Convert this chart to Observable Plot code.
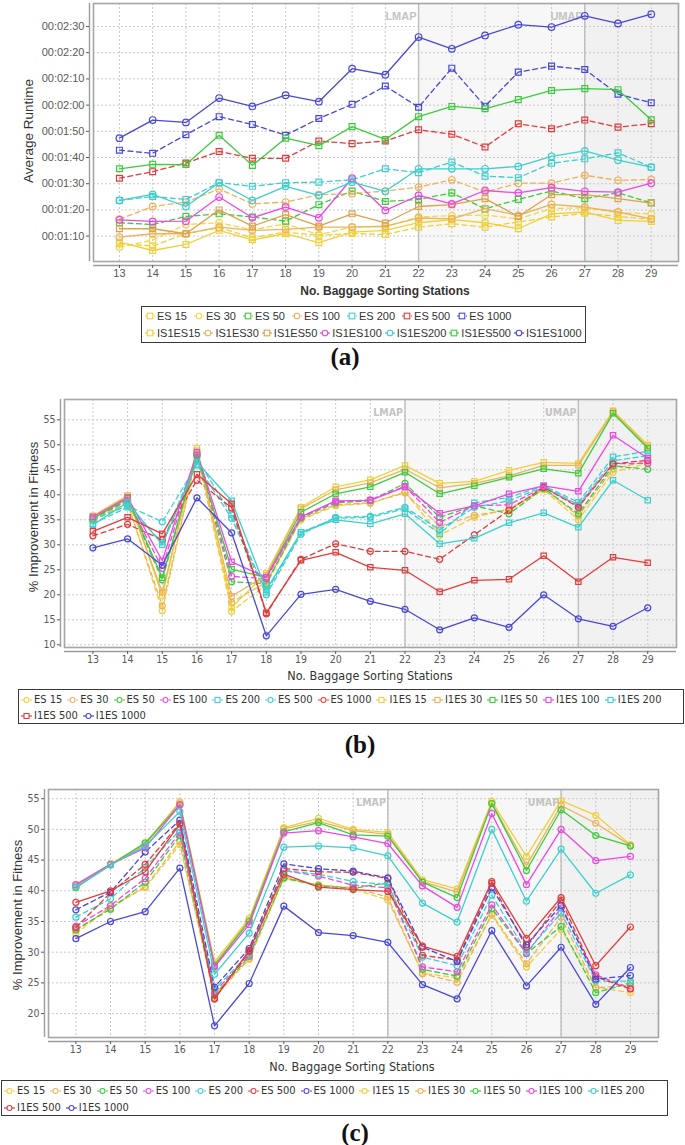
<!DOCTYPE html>
<html><head><meta charset="utf-8">
<script src="https://cdn.jsdelivr.net/npm/d3@7"></script>
<script src="https://cdn.jsdelivr.net/npm/@observablehq/plot@0.6"></script>
<style>
body{margin:0;background:#fff;}
#root{position:relative;width:685px;height:1145px;overflow:hidden;font-family:"Liberation Sans",Arial,sans-serif;}
.panel{position:absolute;left:0;}
.lbl{position:absolute;white-space:nowrap;color:#333;transform:translate(-50%,-50%);}
.legend{position:absolute;border:1.5px solid #3a3a3a;box-sizing:border-box;background:#fff;}
.lrow{position:absolute;display:flex;align-items:center;white-space:nowrap;}
.item{display:flex;align-items:center;color:#333;}
.item svg{display:block;}
.cap{position:absolute;font-family:"Liberation Serif","Times New Roman",serif;font-weight:bold;font-size:25px;transform:translate(-50%,-50%);color:#111;}
</style></head><body><div id="root"></div>
<script>
// ---------- data ----------
const stations = [13,14,15,16,17,18,19,20,21,22,23,24,25,26,27,28,29];
const zoneBounds = [22,27];
const zoneLabels = ["LMAP","UMAP"];

// (a) average runtime, seconds
const runtimeNames = ["ES 15","ES 30","ES 50","ES 100","ES 200","ES 500","ES 1000","IS1ES15","IS1ES30","IS1ES50","IS1ES100","IS1ES200","IS1ES500","IS1ES1000"];
const rtES15    = [67.1,66.2,70.9,73.2,69.4,71.5,70.3,71.0,70.6,73.4,74.7,73.4,75.4,77.3,78.7,77.5,76.4];
const rtES30    = [65.8,68.5,74.4,75.1,72.4,74.7,70.5,73.5,73.5,77.3,77.8,78.0,76.6,80.5,80.8,79.0,78.5];
const rtES50    = [75.1,74.4,77.5,78.5,77.3,75.7,82.0,87.2,83.2,84.0,86.5,80.4,84.0,87.2,84.3,86.5,82.7];
const rtES100   = [76.5,81.3,83.0,88.0,82.3,83.0,85.8,86.2,87.2,88.7,91.5,86.8,90.2,90.2,93.2,91.3,91.6];
const rtES200   = [83.6,85.1,84.0,90.4,89.0,90.4,90.6,91.5,95.7,94.2,98.3,92.9,92.3,97.8,99.5,101.8,96.3];
const rtES500   = [92.1,94.6,97.9,102.3,99.7,99.7,106.3,105.3,106.3,110.6,108.9,104.0,112.9,111.0,114.3,111.6,112.9];
const rtES1000  = [102.8,101.6,108.7,115.6,112.6,108.5,114.9,120.3,127.3,119.2,134.1,119.6,132.6,134.9,133.6,124.2,120.9];
const rtIS15    = [67.7,64.5,66.8,72.2,68.6,70.9,67.5,71.5,72.2,75.1,76.3,75.1,72.8,78.5,79.2,76.0,75.6];
const rtIS30    = [69.6,70.9,70.9,73.4,72.2,72.6,73.4,73.4,73.8,76.9,76.6,80.5,77.9,82.1,81.1,79.2,76.6];
const rtIS50    = [72.8,72.8,70.9,80.0,73.8,78.2,73.8,78.5,75.0,81.3,82.0,84.3,77.5,85.8,85.8,84.3,82.6];
const rtIS100   = [76.2,75.6,75.7,84.9,77.0,81.1,77.0,92.1,79.8,85.5,82.3,87.4,86.5,88.5,87.1,86.8,90.2];
const rtIS200   = [83.6,85.9,81.3,90.4,83.6,89.0,85.5,90.6,87.1,95.7,95.7,95.7,96.6,100.4,102.5,99.0,96.3];
const rtIS500   = [95.7,97.4,97.3,108.5,97.0,107.4,104.5,111.8,106.9,115.6,119.5,118.6,122.1,125.6,126.3,125.9,114.4];
const rtIS1000  = [107.4,114.3,113.4,122.7,119.5,123.8,121.3,133.9,131.6,146.0,141.5,146.6,150.7,149.8,154.1,151.2,154.7];
const runtimeTicks = [70,80,90,100,110,120,130,140,150];

// (b) % improvement in fitness
const fitNames = ["ES 15","ES 30","ES 50","ES 100","ES 200","ES 500","ES 1000","I1ES 15","I1ES 30","I1ES 50","I1ES 100","I1ES 200","I1ES 500","I1ES 1000"];
const bES15   = [34.8,38.5,16.8,48.5,16.7,22.0,35.0,37.8,38.3,40.6,31.9,35.5,37.2,41.0,35.0,44.5,46.3];
const bES30   = [35.0,38.2,17.8,48.0,18.5,22.5,35.2,38.0,38.4,40.4,33.7,35.9,37.0,41.3,35.8,45.2,46.7];
const bES50   = [35.2,38.8,23.0,47.8,22.6,22.2,35.4,38.4,38.8,42.3,35.5,37.8,36.2,41.3,36.2,45.8,45.1];
const bES100  = [35.4,39.0,25.3,48.2,23.7,23.2,35.6,38.6,39.0,41.7,34.5,37.8,38.0,41.5,37.8,46.2,46.3];
const bES200  = [34.2,37.5,30.5,47.2,36.0,20.5,32.5,35.3,35.5,37.2,32.2,38.4,39.5,41.8,38.5,47.6,48.7];
const bES500  = [35.0,37.8,34.6,46.0,35.3,20.0,32.1,35.5,35.7,37.5,33.0,37.5,38.8,41.6,38.0,46.8,47.8];
const bES1000 = [31.8,34.1,31.0,42.9,37.4,16.2,27.1,30.2,28.7,28.7,27.1,32.0,36.9,41.5,37.5,46.2,46.9];
const bI15    = [35.8,39.9,19.8,49.3,17.5,24.3,37.5,41.6,43.0,45.9,42.3,42.7,44.9,46.5,46.3,56.8,50.0];
const bI30    = [35.5,39.6,20.5,48.8,19.7,23.9,37.2,41.0,42.4,45.1,41.4,42.3,43.8,45.9,45.9,56.6,49.6];
const bI50    = [35.2,39.3,23.4,48.0,25.1,23.5,36.5,40.2,41.6,44.5,40.2,41.8,43.5,45.2,44.3,56.3,49.3];
const bI100   = [35.6,39.5,26.8,48.5,26.6,23.5,35.6,38.8,38.9,41.6,36.3,37.8,40.2,41.8,40.7,51.9,47.3];
const bI200   = [34.0,38.5,30.0,46.5,38.8,21.0,32.5,35.0,34.2,36.2,30.2,31.3,34.4,36.4,33.5,42.9,38.9];
const bI500   = [32.7,35.5,32.2,44.1,38.2,16.4,26.9,28.5,25.5,24.9,20.6,22.9,23.1,27.8,22.6,27.5,26.4];
const bI1000  = [29.4,31.2,25.9,39.4,32.4,11.8,20.1,21.1,18.7,17.1,13.0,15.4,13.5,20.0,15.2,13.7,17.4];
const fitTicksB = [10,15,20,25,30,35,40,45,50,55];

// (c) % improvement in fitness
const cES15   = [33.0,37.5,40.5,47.5,23.2,28.8,42.0,41.0,40.3,38.5,26.6,25.8,36.0,27.6,33.7,24.3,23.4];
const cES30   = [33.5,37.2,40.7,48.0,22.6,29.0,42.3,40.9,40.5,39.0,26.5,25.1,36.2,28.1,35.7,24.2,24.6];
const cES50   = [33.7,37.0,41.4,49.0,23.0,29.3,42.1,40.8,40.4,41.3,27.2,26.1,37.1,29.8,34.2,23.4,25.0];
const cES100  = [34.2,37.6,42.0,49.5,23.5,29.5,43.3,42.4,40.9,40.5,27.6,26.8,37.7,29.8,37.2,26.3,24.1];
const cES200  = [35.7,38.7,43.8,49.9,23.9,29.8,43.3,42.7,41.5,41.0,29.2,27.8,39.3,30.0,36.4,25.3,25.3];
const cES500  = [34.0,39.7,44.3,51.0,22.4,30.1,43.6,43.1,43.0,42.0,29.5,28.7,41.2,30.8,38.5,26.0,24.0];
const cES1000 = [36.9,39.8,46.3,51.5,24.3,30.6,44.4,43.6,43.2,42.1,30.8,28.5,40.5,31.2,37.6,25.6,26.2];
const cI15    = [41.0,44.4,47.7,54.5,28.4,35.5,50.3,51.8,50.0,49.5,41.8,40.3,54.6,45.6,54.7,52.3,47.5];
const cI30    = [40.8,44.3,47.5,54.3,28.0,35.2,50.1,51.3,49.8,49.2,41.5,39.8,54.3,44.1,53.9,51.0,47.4];
const cI50    = [40.5,44.2,47.8,54.0,27.8,35.0,49.6,51.1,49.1,48.9,41.4,38.9,54.2,43.3,53.2,49.0,47.3];
const cI100   = [41.0,44.3,47.0,54.0,27.6,34.5,49.4,49.8,48.8,47.7,40.8,37.3,52.6,41.0,50.0,44.9,45.6];
const cI200   = [40.6,44.2,47.3,52.9,26.4,33.1,47.1,47.3,47.0,45.7,38.0,34.9,50.0,38.3,46.8,39.6,42.6];
const cI500   = [38.1,40.0,43.1,50.9,22.4,30.3,42.7,40.6,40.2,39.9,31.0,29.3,41.5,32.2,38.9,27.8,34.1];
const cI1000  = [32.2,35.0,36.6,43.7,18.0,24.9,37.5,33.2,32.7,31.6,24.7,22.4,33.5,24.5,30.8,21.5,27.5];
const fitTicksC = [20,25,30,35,40,45,50,55];

// ---------- styles ----------
const Y="#F0D038", Y2="#F3D64E", O="#ECB25C", T="#DCA24C", G="#3CCB3C", P="#EC48E4", C="#3ECFCF", R="#E23C3C", B="#4848D8";
const styleA = {colors:[Y,Y2,G,O,C,R,B,Y,O,T,P,C,G,B],
  symbols:["square","circle","square","circle","square","square","square","square","circle","square","circle","circle","square","circle"]};
const styleB = {colors:[Y,O,G,P,C,C,R,Y,O,G,P,C,R,B],
  symbols:["circle","circle","circle","circle","square","circle","circle","square","square","square","square","square","square","circle"]};
const styleC = {colors:[Y,O,G,P,C,R,B,Y,O,G,P,C,R,B], symbols:Array(14).fill("circle")};
const dashedFlags = [true,true,true,true,true,true,true,false,false,false,false,false,false,false];

const pad2 = n => String(n).padStart(2,"0");
const hms = s => "00:" + pad2(Math.floor(s/60)) + ":" + pad2(Math.round(s%60));

const root = document.getElementById("root");

function makePanel(cfg){
  const marks = [];
  marks.push(Plot.rect([{a:zoneBounds[0], b:zoneBounds[1]}], {x1:"a", x2:"b", fill:"#f7f7f7"}));
  marks.push(Plot.rect([{a:zoneBounds[1], b:cfg.xDomain[1]}], {x1:"a", x2:"b", fill:"#f1f1f1"}));
  marks.push(Plot.gridX(stations, {stroke:"#c9c9c9", strokeOpacity:1, strokeDasharray:"2,2"}));
  marks.push(Plot.gridY(cfg.yTicks, {stroke:"#c9c9c9", strokeOpacity:1, strokeDasharray:"2,2"}));
  marks.push(Plot.ruleX(zoneBounds, {stroke:"#bdbdbd", strokeWidth:1.4}));
  marks.push(Plot.text(zoneBounds.map((b,i)=>({x:b, t:zoneLabels[i]})), {x:"x", text:"t", frameAnchor:"top", textAnchor:"end", dx:-2, dy:cfg.zoneDy, fill:"#c3c3c3", fontWeight:"bold", fontSize:cfg.zoneFont}));
  cfg.values.forEach((vals,i)=>{
    const rows = vals.map((v,j)=>({x:stations[j], y:v}));
    marks.push(Plot.line(rows, {x:"x", y:"y", stroke:cfg.colors[i], strokeWidth:1.3, strokeDasharray: dashedFlags[i] ? "5,3.5" : undefined}));
    marks.push(Plot.dot(rows, {x:"x", y:"y", stroke:cfg.colors[i], symbol:cfg.symbols[i], r:cfg.r, strokeWidth:1.2, fill:"none"}));
  });
  marks.push(Plot.frame({stroke:"#a6a6a6", strokeWidth:1.6}));
  marks.push(Plot.ruleY([cfg.yDomain[0]], {dy:4, stroke:"#9c9c9c", strokeWidth:1.4}));
  marks.push(Plot.ruleX([cfg.xDomain[0]], {dx:-4, stroke:"#9c9c9c", strokeWidth:1.4}));
  marks.push(Plot.axisX(stations, {tickSize:3, tickPadding:1, dy:4, tickFormat:d=>String(d), label:null, fontSize:cfg.tickFont}));
  marks.push(Plot.axisY(cfg.yTicks, {tickSize:3, tickPadding:2, dx:-4, tickFormat:cfg.yFormat, label:null, fontSize:cfg.tickFont}));
  const svg = Plot.plot({
    width:685, height:cfg.height,
    marginTop:cfg.m[0], marginRight:cfg.m[1], marginBottom:cfg.m[2], marginLeft:cfg.m[3],
    x:{domain:cfg.xDomain}, y:{domain:cfg.yDomain},
    style:{background:"transparent", color:"#5a5a5a", fontFamily:cfg.font, overflow:"visible"},
    marks
  });
  const wrap = document.createElement("div");
  wrap.className = "panel"; wrap.style.top = cfg.top + "px";
  wrap.appendChild(svg); root.appendChild(wrap);
}

function label(text, x, y, css){
  const d = document.createElement("div");
  d.className = "lbl"; d.textContent = text;
  d.style.left = x + "px"; d.style.top = y + "px";
  Object.assign(d.style, css || {});
  root.appendChild(d);
}

function symbolSvg(color, symbol, dashed, w, s){
  const ns = "http://www.w3.org/2000/svg";
  const svg = document.createElementNS(ns, "svg");
  svg.setAttribute("width", w); svg.setAttribute("height", 10);
  const ln = document.createElementNS(ns, "line");
  ln.setAttribute("x1",0); ln.setAttribute("x2",w); ln.setAttribute("y1",5); ln.setAttribute("y2",5);
  ln.setAttribute("stroke",color); ln.setAttribute("stroke-width",1.2);
  if (dashed) ln.setAttribute("stroke-dasharray","2.5,2");
  svg.appendChild(ln);
  let m;
  if (symbol === "square"){
    m = document.createElementNS(ns,"rect");
    m.setAttribute("x", w/2 - s); m.setAttribute("y", 5 - s); m.setAttribute("width", 2*s); m.setAttribute("height", 2*s);
  } else {
    m = document.createElementNS(ns,"circle");
    m.setAttribute("cx", w/2); m.setAttribute("cy", 5); m.setAttribute("r", s);
  }
  m.setAttribute("fill","#fff"); m.setAttribute("stroke",color); m.setAttribute("stroke-width",1.1);
  svg.appendChild(m);
  return svg;
}

function legend(cfg){
  const box = document.createElement("div");
  box.className = "legend";
  Object.assign(box.style, {left:cfg.left+"px", top:cfg.top+"px", width:cfg.width+"px", height:cfg.height+"px"});
  cfg.rows.forEach((idxs, r)=>{
    const row = document.createElement("div");
    row.className = "lrow";
    Object.assign(row.style, {left:cfg.padLeft+"px", top:(cfg.rowTops[r])+"px", columnGap:cfg.gaps[r]+"px", fontSize:cfg.fontSize+"px", fontFamily:cfg.font});
    idxs.forEach(i=>{
      const it = document.createElement("div"); it.className = "item";
      it.appendChild(symbolSvg(cfg.colors[i], cfg.symbols[i], dashedFlags[i], cfg.symW, cfg.symS));
      const sp = document.createElement("span"); sp.textContent = cfg.names[i]; sp.style.marginLeft = cfg.textGap + "px";
      it.appendChild(sp); row.appendChild(it);
    });
    box.appendChild(row);
  });
  root.appendChild(box);
}

const narrow = '"Liberation Sans Narrow","DejaVu Sans Condensed","Arial Narrow",sans-serif';
const regular = '"Liberation Sans",Arial,sans-serif';

// ---------- panel (a) ----------
makePanel({top:0, height:285, m:[3,7,24,93], xDomain:[12.22,29.82], yDomain:[60.3,158.8],
  yTicks:runtimeTicks, yFormat:hms, tickFont:11, font:regular, zoneFont:11, zoneDy:9, r:3.3,
  values:[rtES15,rtES30,rtES50,rtES100,rtES200,rtES500,rtES1000,rtIS15,rtIS30,rtIS50,rtIS100,rtIS200,rtIS500,rtIS1000],
  colors:styleA.colors, symbols:styleA.symbols});
label("Average Runtime", 28, 131, {transform:"translate(-50%,-50%) rotate(-90deg)", fontSize:"13.5px"});
label("No. Baggage Sorting Stations", 385, 291, {fontSize:"12px", fontWeight:"bold"});
legend({left:141, top:306, width:445, height:37, padLeft:3, rowTops:[3,20], gaps:[7,3], fontSize:11, font:regular,
  rows:[[0,1,2,3,4,5,6],[7,8,9,10,11,12,13]], names:runtimeNames, colors:styleA.colors, symbols:styleA.symbols,
  symW:10, symS:2.8, textGap:2});
const capA = document.createElement("div"); capA.className="cap"; capA.textContent="(a)"; capA.style.left="345px"; capA.style.top="357px"; root.appendChild(capA);

// ---------- panel (b) ----------
makePanel({top:380, height:290, m:[19,9,23,64], xDomain:[12.18,29.83], yDomain:[9.46,59.06],
  yTicks:fitTicksB, yFormat:d=>String(d), tickFont:10.5, font:narrow, zoneFont:10.5, zoneDy:9, r:3,
  values:[bES15,bES30,bES50,bES100,bES200,bES500,bES1000,bI15,bI30,bI50,bI100,bI200,bI500,bI1000],
  colors:styleB.colors, symbols:styleB.symbols});
label("% Improvement in Fitness", 33, 517, {transform:"translate(-50%,-50%) rotate(-90deg)", fontSize:"13px"});
label("No. Baggage Sorting Stations", 370, 675, {fontSize:"12.5px", fontFamily:narrow});
legend({left:18, top:689, width:666, height:35, padLeft:2, rowTops:[3,19], gaps:[5,5], fontSize:11, font:narrow,
  rows:[[0,1,2,3,4,5,6,7,8,9,10,11],[12,13]], names:fitNames, colors:styleB.colors, symbols:styleB.symbols,
  symW:11, symS:2.5, textGap:2});
const capB = document.createElement("div"); capB.className="cap"; capB.textContent="(b)"; capB.style.left="360px"; capB.style.top="745px"; root.appendChild(capB);

// ---------- panel (c) ----------
makePanel({top:770, height:290, m:[19,27,23,48], xDomain:[12.21,29.81], yDomain:[16.1,56.5],
  yTicks:fitTicksC, yFormat:d=>String(d), tickFont:10.5, font:narrow, zoneFont:10.5, zoneDy:9, r:3,
  values:[cES15,cES30,cES50,cES100,cES200,cES500,cES1000,cI15,cI30,cI50,cI100,cI200,cI500,cI1000],
  colors:styleC.colors, symbols:styleC.symbols});
label("% Improvement in Fitness", 17, 915, {transform:"translate(-50%,-50%) rotate(-90deg)", fontSize:"13px"});
label("No. Baggage Sorting Stations", 352, 1066, {fontSize:"12.5px", fontFamily:narrow});
legend({left:1, top:1080, width:667, height:36, padLeft:2, rowTops:[3,20], gaps:[5,5], fontSize:11, font:narrow,
  rows:[[0,1,2,3,4,5,6,7,8,9,10,11],[12,13]], names:fitNames, colors:styleC.colors, symbols:styleC.symbols,
  symW:11, symS:2.5, textGap:2});
const capC = document.createElement("div"); capC.className="cap"; capC.textContent="(c)"; capC.style.left="355px"; capC.style.top="1133px"; root.appendChild(capC);
</script></body></html>
